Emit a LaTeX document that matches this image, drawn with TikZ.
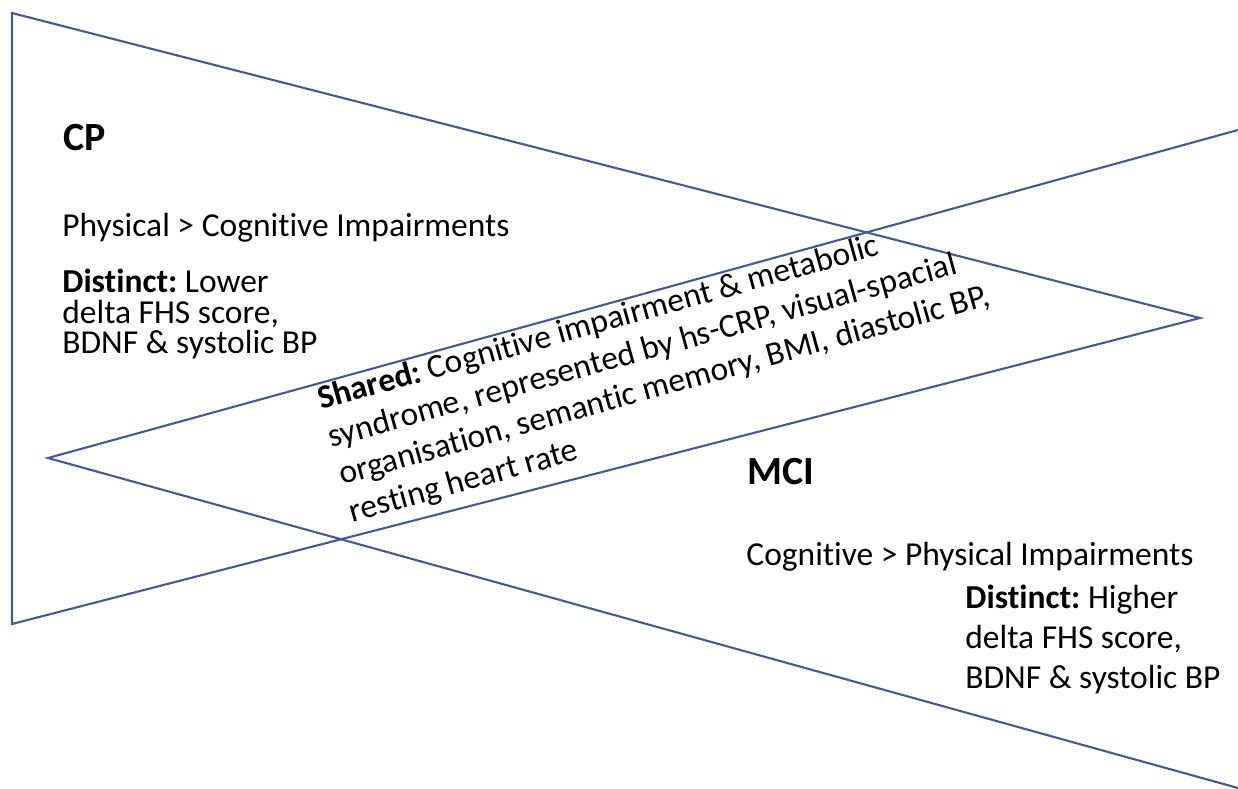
\documentclass[tikz,border=0pt]{standalone}
\usepackage{fontspec}
\setmainfont{Carlito}[Ligatures=NoCommon]
\definecolor{edgeblue}{RGB}{66,90,145}
\frenchspacing
\begin{document}
\begin{tikzpicture}[x=0.5pt,y=-0.5pt,
  edge/.style={draw=edgeblue, line width=1.05pt, line join=miter},
  heading/.style={font=\fontsize{20}{24}\selectfont\bfseries, anchor=base west, inner sep=0pt},
  body/.style={font=\fontsize{16.75}{20}\selectfont, anchor=base west, inner sep=0pt},
  shared/.style={body, rotate=15.5}]
\useasboundingbox (0,0) rectangle (1238,788);

% CP wedge: vertical side on the left, tip on the right
\coordinate (cpTop) at (12,13);
\coordinate (cpBot) at (12,624);
\coordinate (cpTip) at (1200,318);
\draw[edge] (cpTop) -- (cpTip) -- (cpBot) -- cycle;

% MCI wedge: tip on the left, open towards the right edge
\coordinate (mciTip) at (48,458);
\coordinate (mciTop) at (1238,130);
\coordinate (mciBot) at (1238,788);
\draw[edge] (mciTop) -- (mciTip) -- (mciBot);

% CP texts
\node[heading] (cp) at (63,150) {CP};
\node[body] (cpMain) at (62,236.5) {Physical > Cognitive Impairments};
\node[body] (cpD1) at (62,292.5) {\textbf{Distinct:} Lower};
\node[body] (cpD2) at (62,323) {delta FHS score,};
\node[body] (cpD3) at (62,353) {BDNF \& systolic BP};

% MCI texts
\node[heading] (mci) at (747,484) {MCI};
\node[body] (mciMain) at (746,565) {Cognitive > Physical Impairments};
\node[body] (mciD1) at (965,608) {\textbf{Distinct:} Higher};
\node[body] (mciD2) at (965,648) {delta FHS score,};
\node[body] (mciD3) at (965,688) {BDNF \& systolic BP};

% shared features, set along the overlap
\node[shared] (sh1) at (321,410) {\textbf{Shared:} Cognitive impairment \& metabolic};
\node[shared] (sh2) at (331.5,447.5) {syndrome, represented by hs-CRP, visual-spacial};
\node[shared] (sh3) at (342,485) {organisation, semantic memory, BMI, diastolic BP,};
\node[shared] (sh4) at (352.5,522.5) {resting heart rate};
\end{tikzpicture}
\end{document}
